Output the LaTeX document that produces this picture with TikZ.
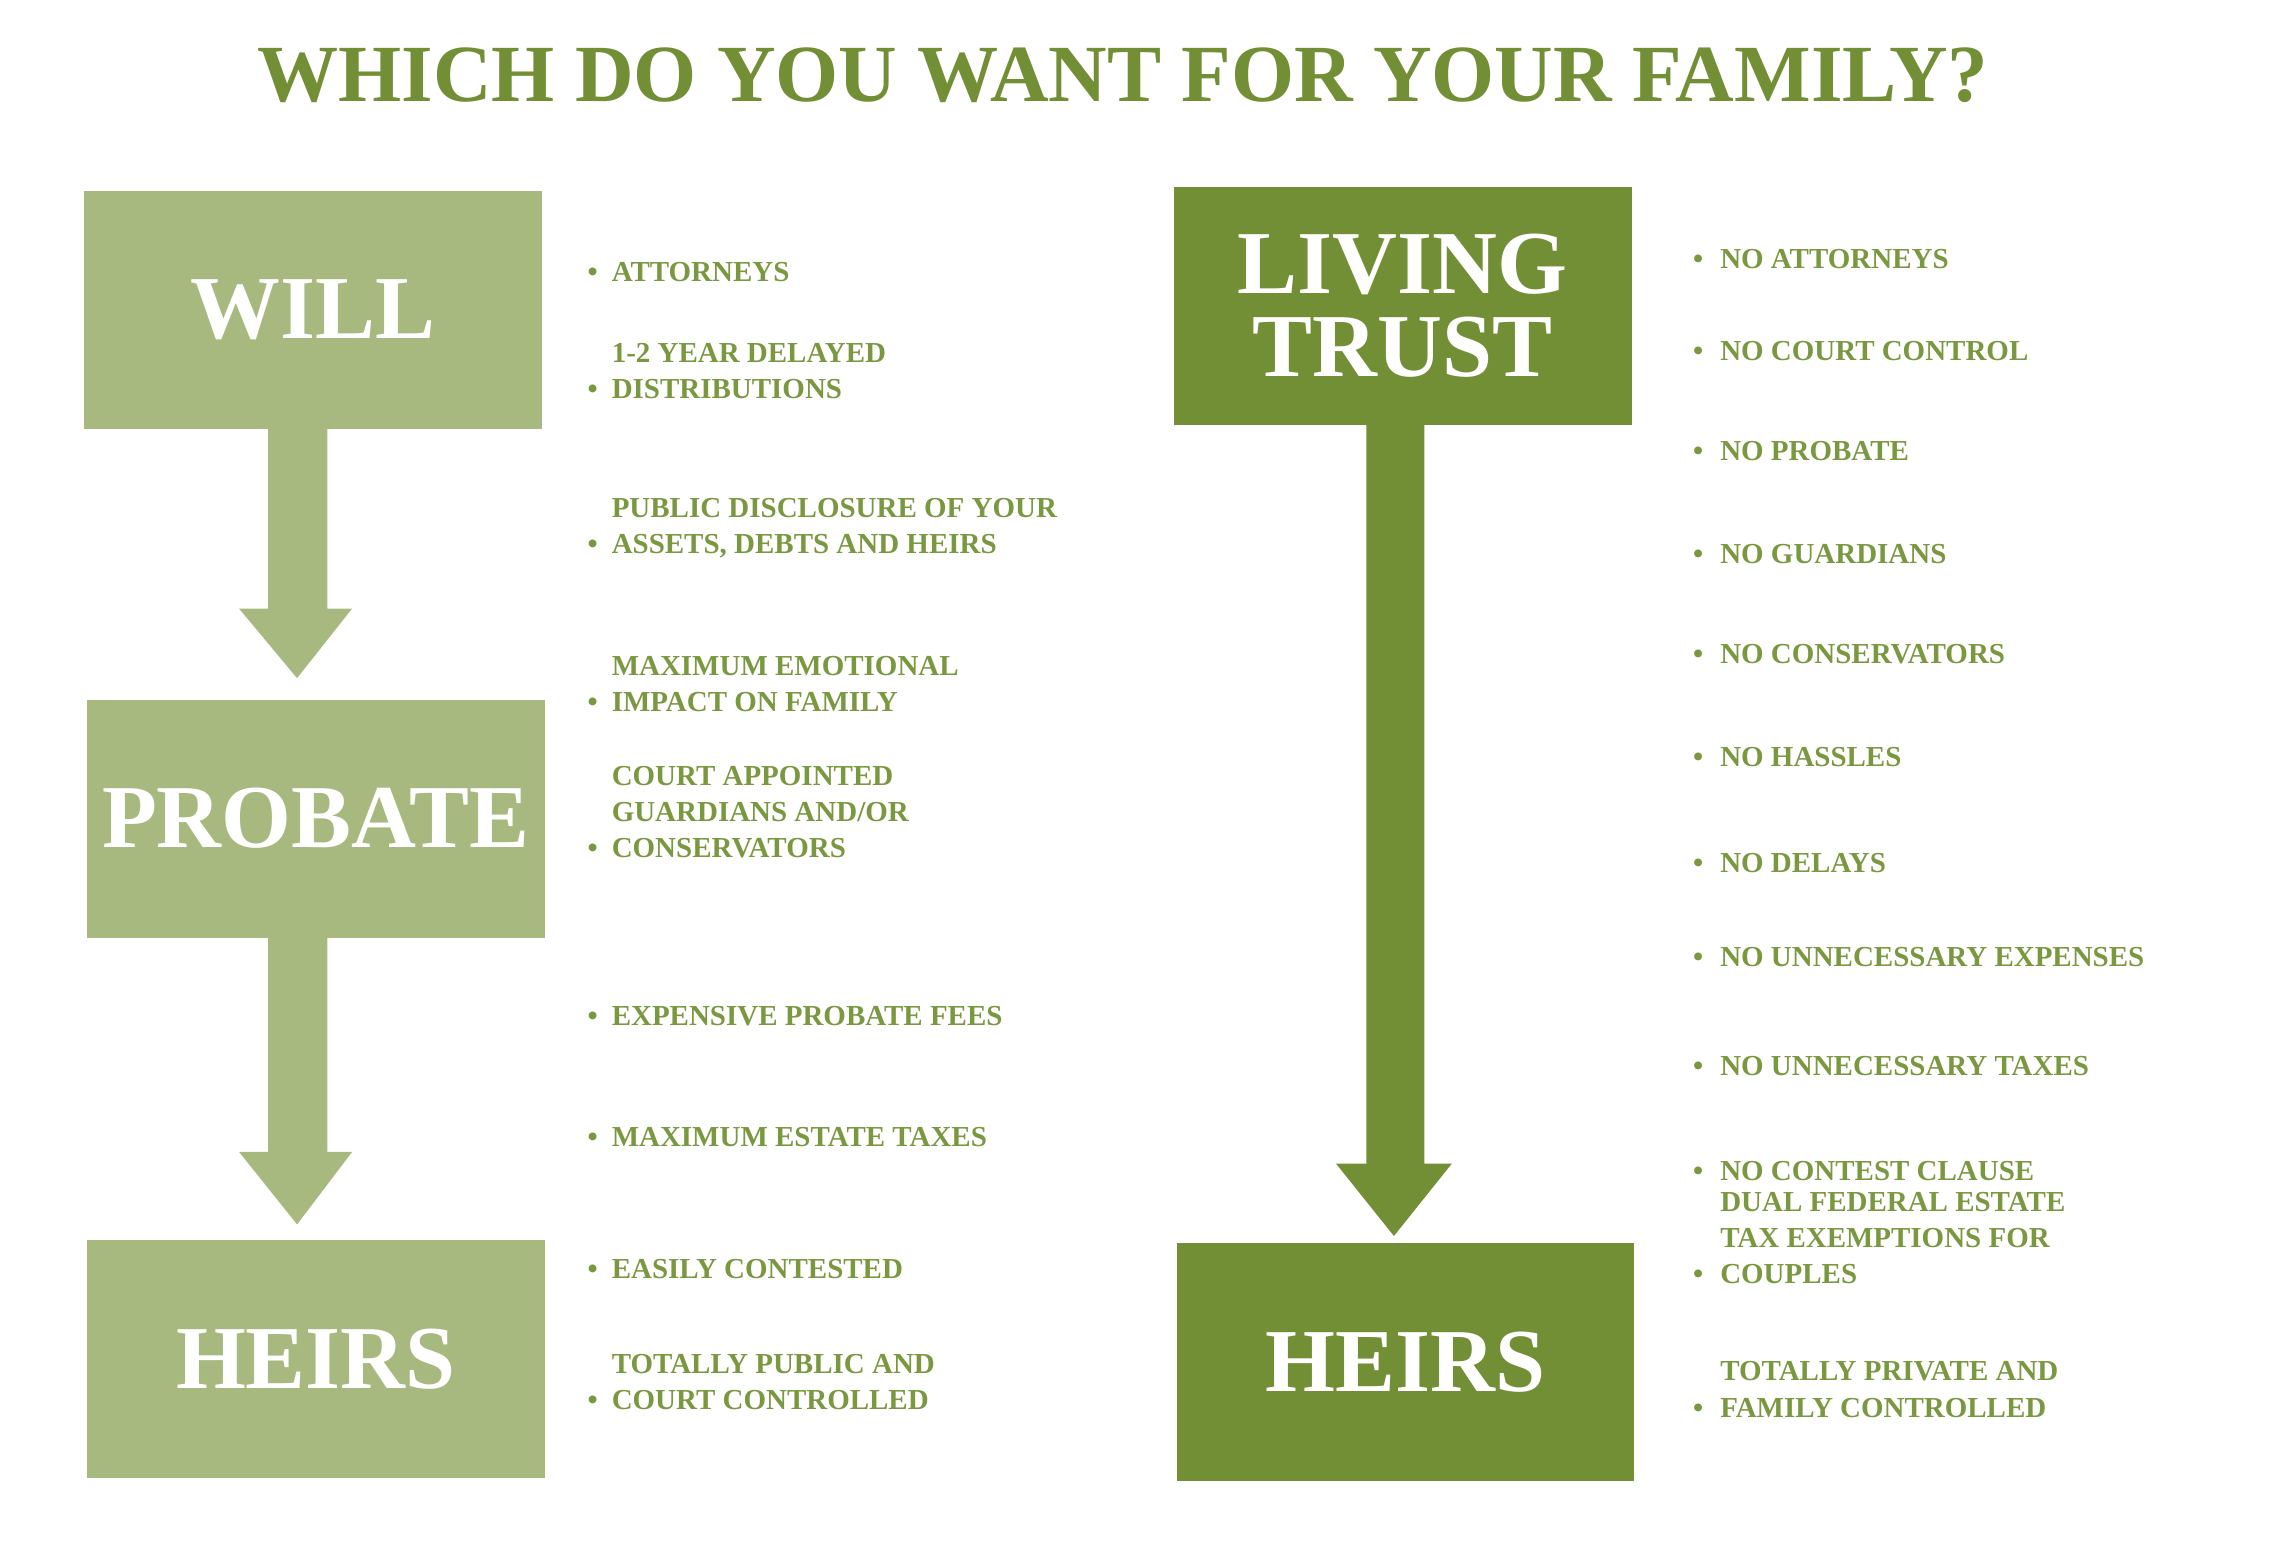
\documentclass[tikz,border=0pt]{standalone}
\usepackage{fontspec}
\setmainfont{Liberation Serif}
\definecolor{light}{HTML}{A8B97F}
\definecolor{dark}{HTML}{728F35}
\definecolor{txt}{HTML}{7A9840}
\begin{document}
\begin{tikzpicture}[x=1pt,y=-1pt,
  box/.style={minimum width=316pt,minimum height=164pt,inner sep=0,text=white,font=\bfseries\fontsize{62}{57}\selectfont,align=center},
  lbox/.style={box,fill=light},
  dbox/.style={box,fill=dark},
  bul/.style={anchor=base,inner sep=0,text=txt,font=\bfseries\fontsize{20}{25}\selectfont},
  item/.style={anchor=base west,inner sep=0,text=txt,align=left,font=\bfseries\fontsize{20}{25}\selectfont}]
\useasboundingbox (0,0) rectangle (1568,1065);
\fill[white] (0,0) rectangle (1568,1065);
\node[text=dark,font=\bfseries\fontsize{56}{60}\selectfont] (title) at (775,52) {WHICH DO YOU WANT FOR YOUR FAMILY?};
\node[lbox] (will) at (216,214) {WILL};
\node[lbox] (probate) at (218,565) {PROBATE};
\node[lbox] (heirsL) at (218,938) {HEIRS};
\node[dbox] (trust) at (968,211) {LIVING\\TRUST};
\node[dbox] (heirsR) at (970,940) {HEIRS};
\fill[light] (will.south -| 185,0) -- (226,296) -- (226,420) -- (243,420) -- (205,468) -- (165,420) -- (185,420) -- cycle;
\fill[light] (probate.south -| 185,0) -- (226,647) -- (226,795) -- (243,795) -- (205,845) -- (165,795) -- (185,795) -- cycle;
\fill[dark] (trust.south -| 943,0) -- (983,293) -- (983,803) -- (1002,803) -- (962,853) -- (922,803) -- (943,803) -- cycle;
\foreach \y/\t [count=\i] in {
 194/ATTORNEYS,
 275/{1-2 YEAR DELAYED\\DISTRIBUTIONS},
 382/{PUBLIC DISCLOSURE OF YOUR\\ASSETS, DEBTS AND HEIRS},
 491/{MAXIMUM EMOTIONAL\\IMPACT ON FAMILY},
 592/{COURT APPOINTED\\GUARDIANS AND/OR\\CONSERVATORS},
 708/EXPENSIVE PROBATE FEES,
 791/MAXIMUM ESTATE TAXES,
 882/EASILY CONTESTED,
 973/{TOTALLY PUBLIC AND\\COURT CONTROLLED}}{
 \node[bul] (lb\i) at (409,\y) {\textbullet};
 \node[item] (lt\i) at (422,\y) {\t};
}
\foreach \y/\t [count=\i] in {
 185/NO ATTORNEYS,
 249/NO COURT CONTROL,
 318/NO PROBATE,
 389/NO GUARDIANS,
 458/NO CONSERVATORS,
 529/NO HASSLES,
 602/NO DELAYS,
 667/NO UNNECESSARY EXPENSES,
 742/NO UNNECESSARY TAXES,
 815/NO CONTEST CLAUSE,
 886/{DUAL FEDERAL ESTATE\\TAX EXEMPTIONS FOR\\COUPLES},
 978/{TOTALLY PRIVATE AND\\FAMILY CONTROLLED}}{
 \node[bul] (rb\i) at (1172,\y) {\textbullet};
 \node[item] (rt\i) at (1187,\y) {\t};
}
\end{tikzpicture}
\end{document}
